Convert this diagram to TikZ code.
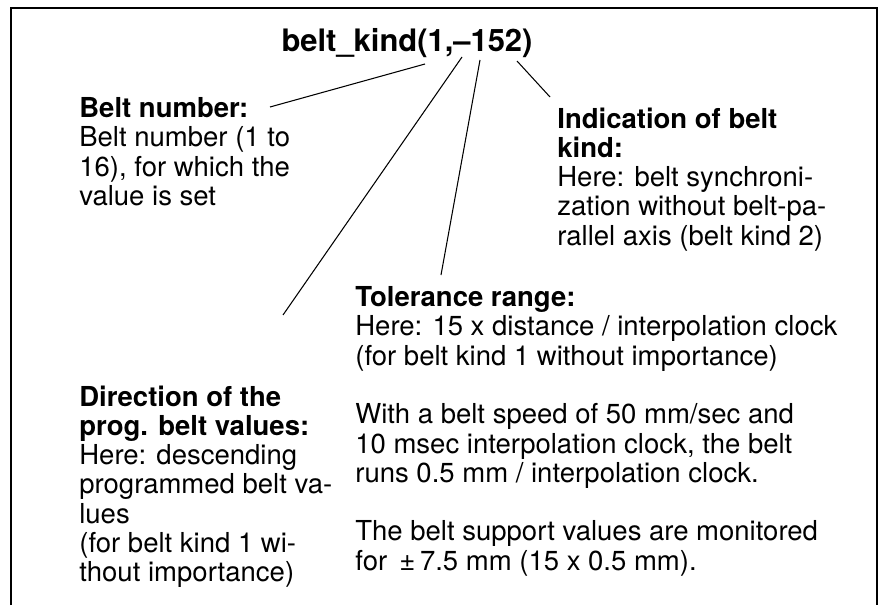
\documentclass[tikz,border=0pt]{standalone}
\usepackage{fontspec}
\setmainfont{TeX Gyre Heros}
\usetikzlibrary{positioning}

\begin{document}
\begin{tikzpicture}[
    txt/.style={anchor=north west, inner sep=0pt, align=left,
      font=\fontsize{15.65pt}{16.67pt}\selectfont},
    ttl/.style={anchor=base, inner sep=0pt, font=\fontsize{17.6pt}{20pt}\selectfont\bfseries},
    lead/.style={line width=0.6pt},
  ]
  \useasboundingbox (0,0) rectangle (17.62,-12.10);
  % frame, open at the bottom
  \draw[line width=0.8pt] (0.22,-12.10) |- (17.54,-0.16) -- (17.54,-12.10);

  % call
  \node[ttl] (call) at (8.14,-1.04) {belt\_kind(1,--152)};

  % explanations
  \node[txt] (num) at (1.58,-1.944) {\textbf{Belt number:}\\
    Belt number (1 to\\16), for which the\\value is set};
  \node[txt] (kind) at (11.14,-2.144) {\textbf{Indication of belt}\\\textbf{kind:}\\
    Here: belt synchroni-\\zation without belt-pa-\\rallel axis (belt kind 2)};
  \node[txt] (tol) at (7.10,-5.724) {\textbf{Tolerance range:}\\
    Here: 15 x distance / interpolation clock\\
    (for belt kind 1 without importance)\\[16.67pt]
    With a belt speed of 50 mm/sec and\\
    10 msec interpolation clock, the belt\\
    runs 0.5 mm / interpolation clock.\\[16.67pt]
    The belt support values are monitored\\
    for \,±\,7.5 mm (15 x 0.5 mm).};
  \node[txt] (dir) at (1.58,-7.704) {\textbf{Direction of the}\\\textbf{prog. belt values:}\\
    Here: descending\\programmed belt va-\\lues\\(for belt kind 1 wi-\\thout importance)};

  % leader lines
  \coordinate (numend) at (5.40,-2.14);
  \coordinate (numtip) at (8.50,-1.28);
  \coordinate (dirend) at (5.66,-6.30);
  \coordinate (dirtip) at (9.24,-1.14);
  \coordinate (tolend) at (8.82,-5.50);
  \coordinate (toltip) at (9.60,-1.20);
  \coordinate (kindtip) at (10.34,-1.22);
  \coordinate (kindend) at (11.00,-1.94);
  \draw[lead] (numend) -- (numtip);
  \draw[lead] (dirend) -- (dirtip);
  \draw[lead] (tolend) -- (toltip);
  \draw[lead] (kindtip) -- (kindend);
\end{tikzpicture}
\end{document}
